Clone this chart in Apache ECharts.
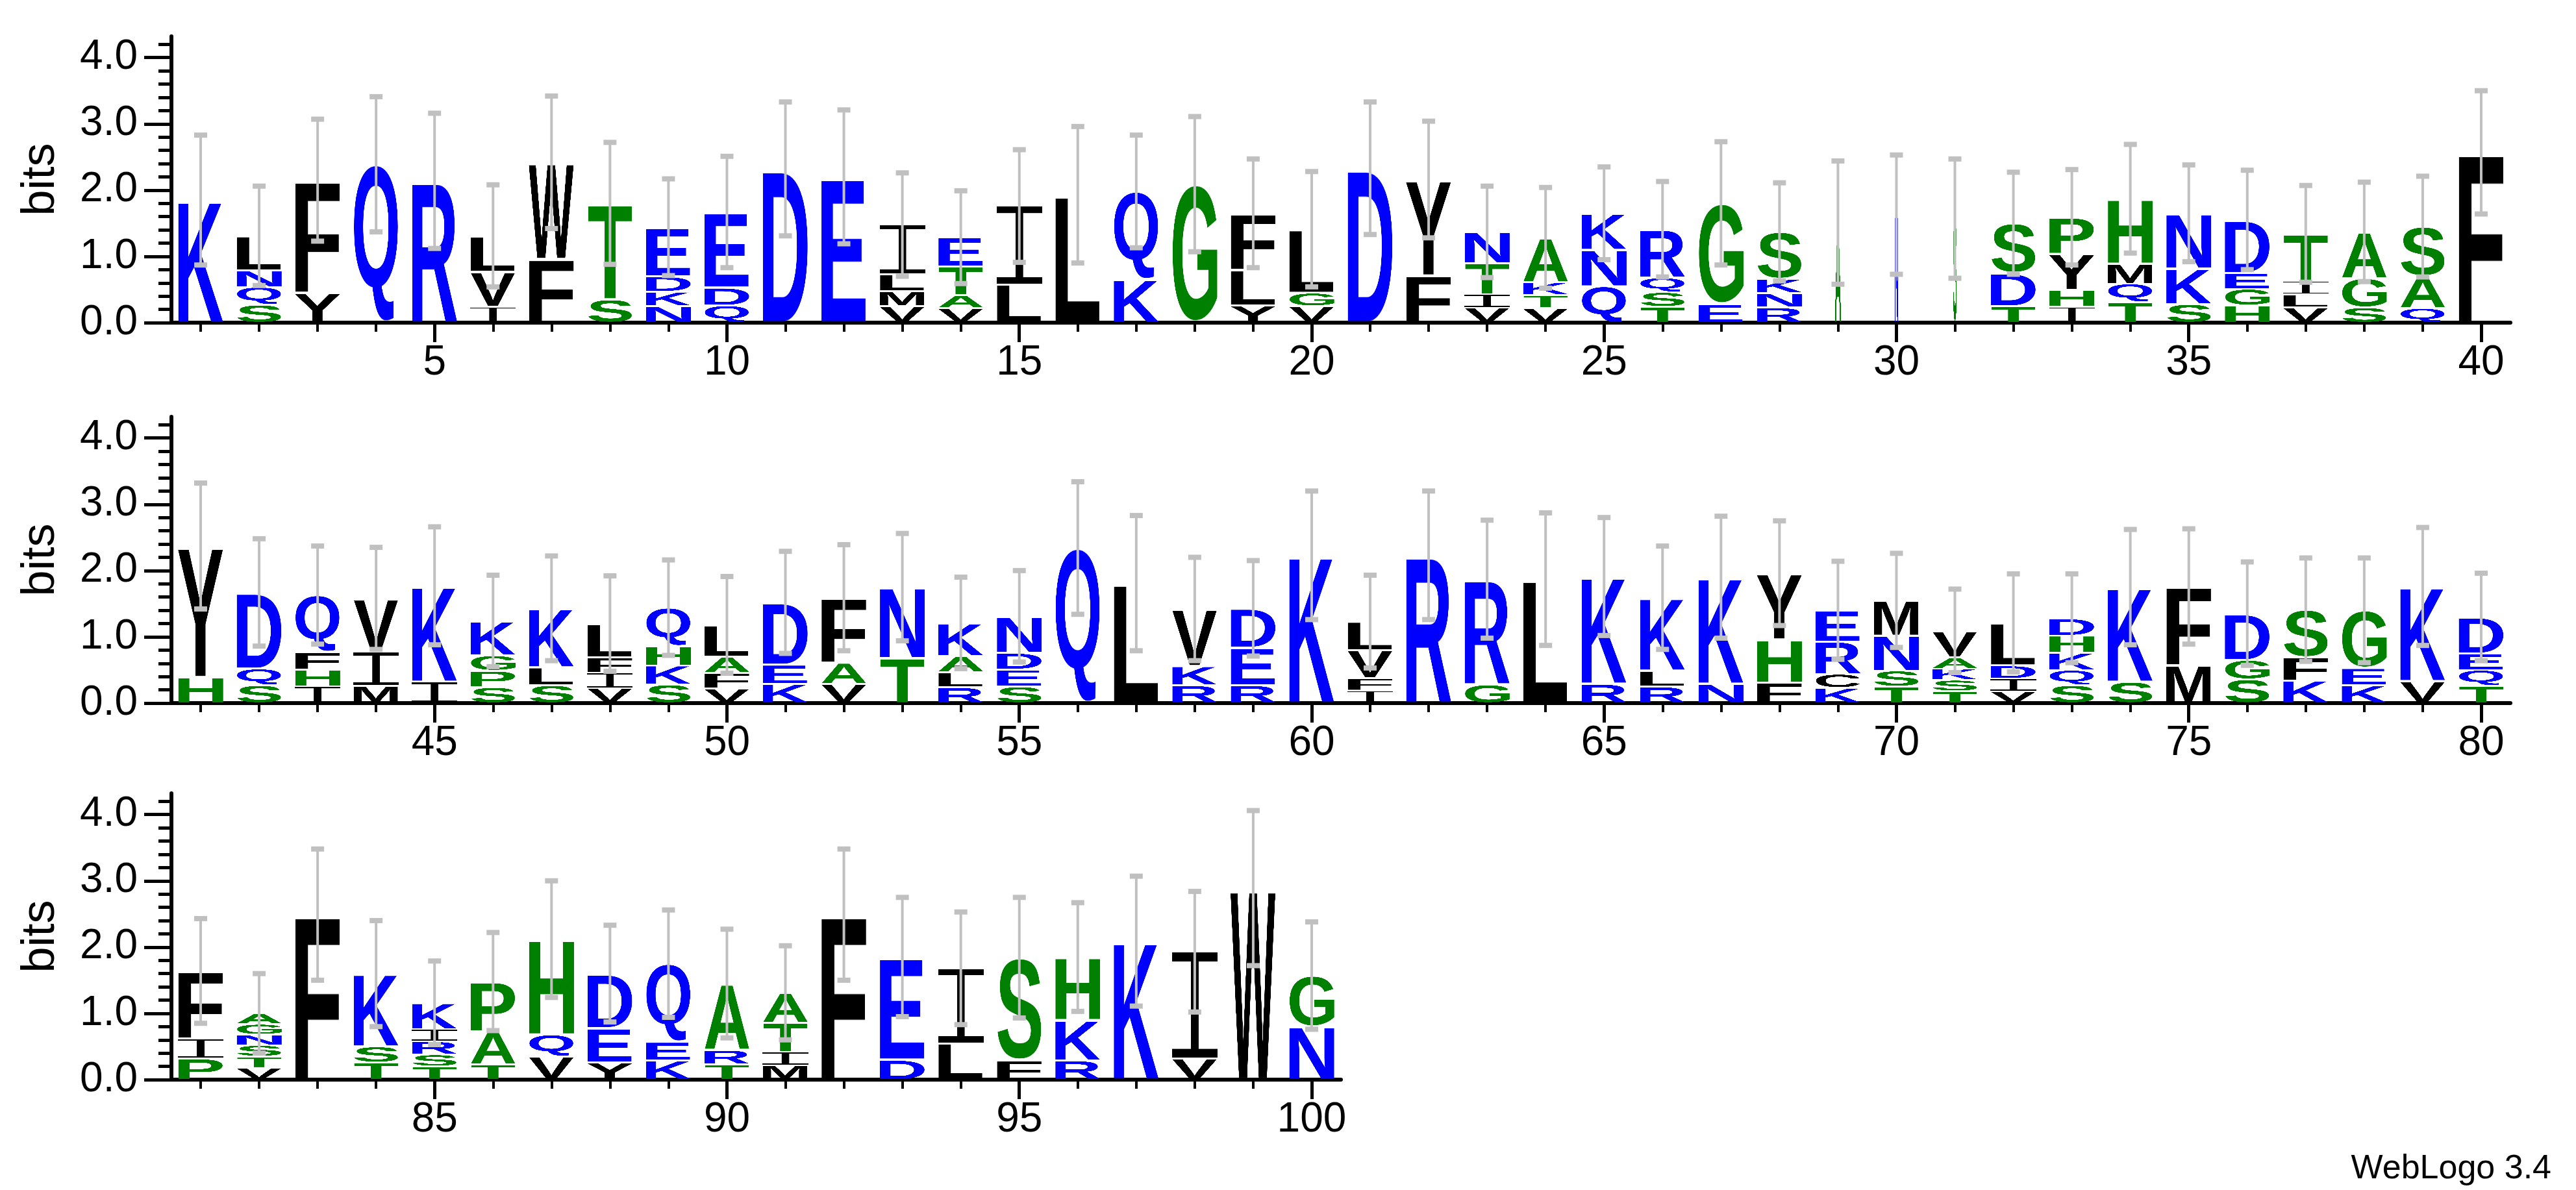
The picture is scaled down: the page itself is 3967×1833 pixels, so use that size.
<!DOCTYPE html>
<html>
<head>
<meta charset="utf-8">
<script src="https://cdn.jsdelivr.net/npm/echarts@6/dist/echarts.min.js"></script>
<style>
  html, body { margin: 0; padding: 0; background: #fff; }
  #logo { width: 3967px; height: 1833px; }
</style>
</head>
<body>
<div id="logo"></div>
<script>
// letters of each column, bottom to top
const letters = [
  'K', 'SQNL', 'YF', 'Q', 'R', 'IVL', 'FW', 'ST', 'NKDE', 'QDE',
  'D', 'E', 'VMLI', 'VATE', 'LI', 'L', 'KQ', 'G', 'YLF', 'VGL',
  'D', 'FY', 'VITN', 'VTKA', 'QNK', 'TSQR', 'EG', 'RNKS', 'A', 'N',
  'S', 'TDS', 'IHYP', 'TQMH', 'SKN', 'HGED', 'VLIT', 'SGA', 'QAS', 'F',
  'HY', 'SQD', 'IHFQ', 'MIV', 'IK', 'SPGK', 'SLK', 'VIFL', 'SKHQ', 'VFAL',
  'KED', 'VAF', 'TN', 'RLAK', 'SEDN', 'Q', 'L', 'RKV', 'RED', 'K',
  'IFVL', 'R', 'GR', 'L', 'RK', 'RLK', 'NK', 'FHY', 'KCRE', 'TSNM',
  'TSKAV', 'VIDL', 'SQKHD', 'SK', 'MF', 'SGD', 'KFS', 'KEG', 'VK', 'TQED',
  'PIF', 'VTSNGA', 'F', 'TSK', 'TSRIK', 'TAP', 'VQH', 'YED', 'KEQ', 'TRA',
  'MITA', 'F', 'DE', 'LI', 'FS', 'RKH', 'K', 'VI', 'W', 'NG'
];
// letter heights in bits, bottom to top
const heights = [
  [1.85], [0.27, 0.27, 0.25, 0.52], [0.45, 1.70], [2.39], [2.14], [0.24, 0.53, 0.54], [0.96, 1.46], [0.35, 1.45], [0.25, 0.22, 0.23, 0.74], [0.26, 0.27, 1.14],
  [2.32], [2.20], [0.25, 0.23, 0.25, 0.75], [0.22, 0.20, 0.43, 0.44], [0.58, 1.18], [1.93], [0.65, 1.33], [2.09], [0.26, 0.54, 0.85], [0.25, 0.20, 0.96],
  [2.33], [0.71, 1.45], [0.23, 0.20, 0.47, 0.47], [0.22, 0.20, 0.19, 0.67], [0.55, 0.55, 0.55], [0.24, 0.22, 0.22, 0.73], [0.28, 1.52], [0.23, 0.22, 0.21, 0.71], [1.51], [1.63],
  [1.57], [0.25, 0.50, 0.75], [0.24, 0.26, 0.54, 0.55], [0.31, 0.28, 0.30, 0.98], [0.28, 0.54, 0.83], [0.26, 0.25, 0.24, 0.80], [0.23, 0.20, 0.20, 0.71], [0.23, 0.44, 0.70], [0.22, 0.48, 0.75], [2.57],
  [0.39, 1.98], [0.27, 0.25, 1.15], [0.25, 0.26, 0.26, 0.86], [0.26, 0.51, 0.81], [0.32, 1.45], [0.24, 0.25, 0.23, 0.52], [0.27, 0.27, 0.89], [0.23, 0.23, 0.23, 0.51], [0.28, 0.29, 0.29, 0.58], [0.22, 0.24, 0.24, 0.48],
  [0.29, 0.29, 0.94], [0.29, 0.32, 0.98], [0.68, 1.07], [0.24, 0.23, 0.24, 0.50], [0.25, 0.26, 0.25, 0.55], [2.34], [1.81], [0.27, 0.29, 0.86], [0.27, 0.57, 0.59], [2.23],
  [0.19, 0.19, 0.42, 0.43], [2.23], [0.28, 1.59], [1.87], [0.29, 1.62], [0.25, 0.24, 1.10], [0.29, 1.61], [0.31, 0.65, 1.00], [0.23, 0.21, 0.49, 0.47], [0.25, 0.24, 0.53, 0.53],
  [0.18, 0.17, 0.17, 0.17, 0.40], [0.18, 0.19, 0.20, 0.64], [0.27, 0.23, 0.26, 0.26, 0.26], [0.32, 1.43], [0.57, 1.19], [0.36, 0.29, 0.70], [0.34, 0.35, 0.72], [0.27, 0.26, 0.87], [0.33, 1.43], [0.26, 0.24, 0.25, 0.55],
  [0.32, 0.30, 1.02], [0.18, 0.17, 0.17, 0.16, 0.16, 0.16], [2.49], [0.26, 0.24, 1.10], [0.20, 0.18, 0.20, 0.18, 0.40], [0.23, 0.50, 0.75], [0.35, 0.33, 1.44], [0.26, 0.52, 0.82], [0.29, 0.28, 1.18], [0.23, 0.22, 1.00],
  [0.22, 0.20, 0.44, 0.45], [2.49], [0.30, 1.55], [0.55, 1.13], [0.29, 1.55], [0.29, 0.61, 0.95], [2.09], [0.32, 1.61], [2.89], [0.80, 0.77]
];
// error bar half-lengths
const errors = [
  0.98, 0.75, 0.92, 1.02, 1.02, 0.77, 1.00, 0.92, 0.73, 0.84,
  1.01, 1.01, 0.78, 0.70, 0.85, 1.03, 0.85, 1.02, 0.82, 0.87,
  1.00, 0.88, 0.69, 0.76, 0.70, 0.72, 0.93, 0.74, 0.93, 0.90,
  0.90, 0.77, 0.72, 0.82, 0.73, 0.75, 0.73, 0.75, 0.76, 0.93,
  0.95, 0.81, 0.74, 0.77, 0.89, 0.69, 0.79, 0.72, 0.72, 0.73,
  0.77, 0.80, 0.81, 0.69, 0.69, 1.00, 1.02, 0.78, 0.72, 0.97,
  0.70, 0.97, 0.89, 1.00, 0.89, 0.78, 0.92, 0.79, 0.74, 0.71,
  0.63, 0.74, 0.67, 0.87, 0.87, 0.78, 0.78, 0.79, 0.89, 0.66,
  0.79, 0.60, 0.99, 0.80, 0.63, 0.74, 0.88, 0.73, 0.81, 0.82,
  0.71, 0.99, 0.90, 0.85, 0.91, 0.82, 0.98, 0.91, 1.17, 0.81
];
// columns drawn narrower (gapped columns); all others full width
const narrowColumns = { 29: 0.14, 30: 0.08, 31: 0.08 };
const yTickValues = [0, 1, 2, 3, 4];

const BLUE = '#0000ff', GREEN = '#008000', BLACK = '#000000';
function letterColor(ch) {
  if ('DEKRNQ'.indexOf(ch) >= 0) return BLUE;
  if ('STGAHP'.indexOf(ch) >= 0) return GREEN;
  return BLACK;
}

// pre-render each glyph trimmed to its ink box so it can be stretched to any rectangle
const glyphCache = {};
function glyph(ch) {
  if (glyphCache[ch]) return glyphCache[ch];
  let c;
  if (ch === 'I') {
    // serif I like WebLogo's
    c = document.createElement('canvas');
    c.width = 120; c.height = 400;
    const ctx = c.getContext('2d');
    ctx.fillStyle = letterColor(ch);
    ctx.fillRect(0, 0, 120, 34);
    ctx.fillRect(0, 366, 120, 34);
    ctx.fillRect(50, 0, 20, 400);
  } else {
    const font = 'bold 400px "Liberation Sans", Arial, sans-serif';
    const m = document.createElement('canvas').getContext('2d');
    m.font = font;
    const met = m.measureText(ch);
    const w = Math.ceil(met.actualBoundingBoxLeft + met.actualBoundingBoxRight) + 2;
    const h = Math.ceil(met.actualBoundingBoxAscent + met.actualBoundingBoxDescent) + 2;
    c = document.createElement('canvas');
    c.width = w; c.height = h;
    const ctx = c.getContext('2d');
    ctx.font = font;
    ctx.fillStyle = letterColor(ch);
    ctx.textBaseline = 'alphabetic';
    ctx.fillText(ch, met.actualBoundingBoxLeft + 1, met.actualBoundingBoxAscent + 1);
  }
  glyphCache[ch] = c;
  return c;
}

const rows = [[1, 40], [41, 80], [81, 100]];
const LEFT = 264, STEP = 90.05, YMAX = 4.32, ROW_TOP = [56, 642, 1222], ROW_H = 441;
const minorValues = [];
for (let v = 0.2; v < 4.25; v += 0.2) minorValues.push(Math.round(v * 10) / 10);

const grids = [], xAxes = [], yAxes = [], series = [];
rows.forEach(function (r, k) {
  const n = r[1] - r[0] + 1;
  const cats = [];
  for (let p = r[0]; p <= r[1]; p++) cats.push(String(p));
  grids.push({ left: LEFT, top: ROW_TOP[k], width: n * STEP, height: ROW_H });
  xAxes.push({
    type: 'category', gridIndex: k, data: cats, boundaryGap: true,
    axisLine: { show: true, lineStyle: { color: '#000', width: 6 } },
    axisTick: { show: true, alignWithLabel: true, interval: 0, length: 14, lineStyle: { color: '#000', width: 4 } },
    axisLabel: {
      interval: function (i, v) { return Number(v) % 5 === 0; },
      color: '#000', fontSize: 64, fontFamily: 'Liberation Sans', margin: 30
    }
  });
  xAxes.push({
    type: 'category', gridIndex: k, data: cats, boundaryGap: true, position: 'bottom',
    axisLine: { show: false },
    axisTick: {
      show: true, alignWithLabel: true, length: 30, lineStyle: { color: '#000', width: 5 },
      interval: function (i, v) { return Number(v) % 5 === 0; }
    },
    axisLabel: { show: false }
  });
  yAxes.push({
    type: 'value', gridIndex: k, min: 0, max: YMAX,
    name: 'bits', nameLocation: 'middle', nameGap: 165, nameRotate: 90,
    nameTextStyle: { color: '#000', fontSize: 72, fontFamily: 'Liberation Sans' },
    splitLine: { show: false },
    axisLine: { show: true, lineStyle: { color: '#000', width: 6 } },
    axisTick: { show: true, customValues: yTickValues, length: 42, lineStyle: { color: '#000', width: 5 } },
    axisLabel: {
      customValues: yTickValues, margin: 52, color: '#000', fontSize: 64,
      fontFamily: 'Liberation Sans', formatter: function (v) { return v.toFixed(1); }
    }
  });
  yAxes.push({
    type: 'value', gridIndex: k, min: 0, max: YMAX, position: 'left',
    splitLine: { show: false }, axisLine: { show: false }, axisLabel: { show: false },
    axisTick: { show: true, customValues: minorValues, length: 20, lineStyle: { color: '#000', width: 5 } }
  });

  const data = [];
  for (let p = r[0]; p <= r[1]; p++) data.push([p - r[0], p - 1]);
  series.push({
    type: 'custom', xAxisIndex: 2 * k, yAxisIndex: 2 * k, clip: false, data: data,
    renderItem: function (params, api) {
      const ci = api.value(0), idx = api.value(1);
      const band = api.size([1, 0])[0];
      const frac = narrowColumns[idx + 1] || 1;
      const w = band * 0.78 * frac;
      const cx = api.coord([ci, 0])[0];
      const children = [];
      let cum = 0;
      const str = letters[idx], hs = heights[idx];
      for (let j = 0; j < str.length; j++) {
        const y0 = api.coord([ci, cum])[1];
        const y1 = api.coord([ci, cum + hs[j]])[1];
        cum += hs[j];
        children.push({
          type: 'image',
          style: { image: glyph(str[j]), x: cx - w / 2, y: y1 + 1, width: w, height: Math.max(1, y0 - y1 - 2) }
        });
      }
      const e = errors[idx];
      const top = api.coord([ci, cum + e])[1];
      const bot = api.coord([ci, Math.max(0, cum - e)])[1];
      const barStyle = { stroke: '#c0c0c0', lineWidth: 4 };
      children.push({ type: 'line', shape: { x1: cx, y1: top, x2: cx, y2: bot }, style: barStyle });
      children.push({ type: 'line', shape: { x1: cx - 10, y1: top, x2: cx + 10, y2: top }, style: { stroke: '#c0c0c0', lineWidth: 8 } });
      children.push({ type: 'line', shape: { x1: cx - 10, y1: bot, x2: cx + 10, y2: bot }, style: { stroke: '#c0c0c0', lineWidth: 8 } });
      return { type: 'group', children: children };
    }
  });
});

const chart = echarts.init(document.getElementById('logo'));
chart.setOption({
  animation: false,
  backgroundColor: '#fff',
  grid: grids,
  xAxis: xAxes,
  yAxis: yAxes,
  series: series,
  graphic: [{
    type: 'text', right: 38, bottom: 6,
    style: { text: 'WebLogo 3.4', fill: '#000', fontSize: 52, fontFamily: 'Liberation Sans' }
  }]
});
</script>
</body>
</html>
